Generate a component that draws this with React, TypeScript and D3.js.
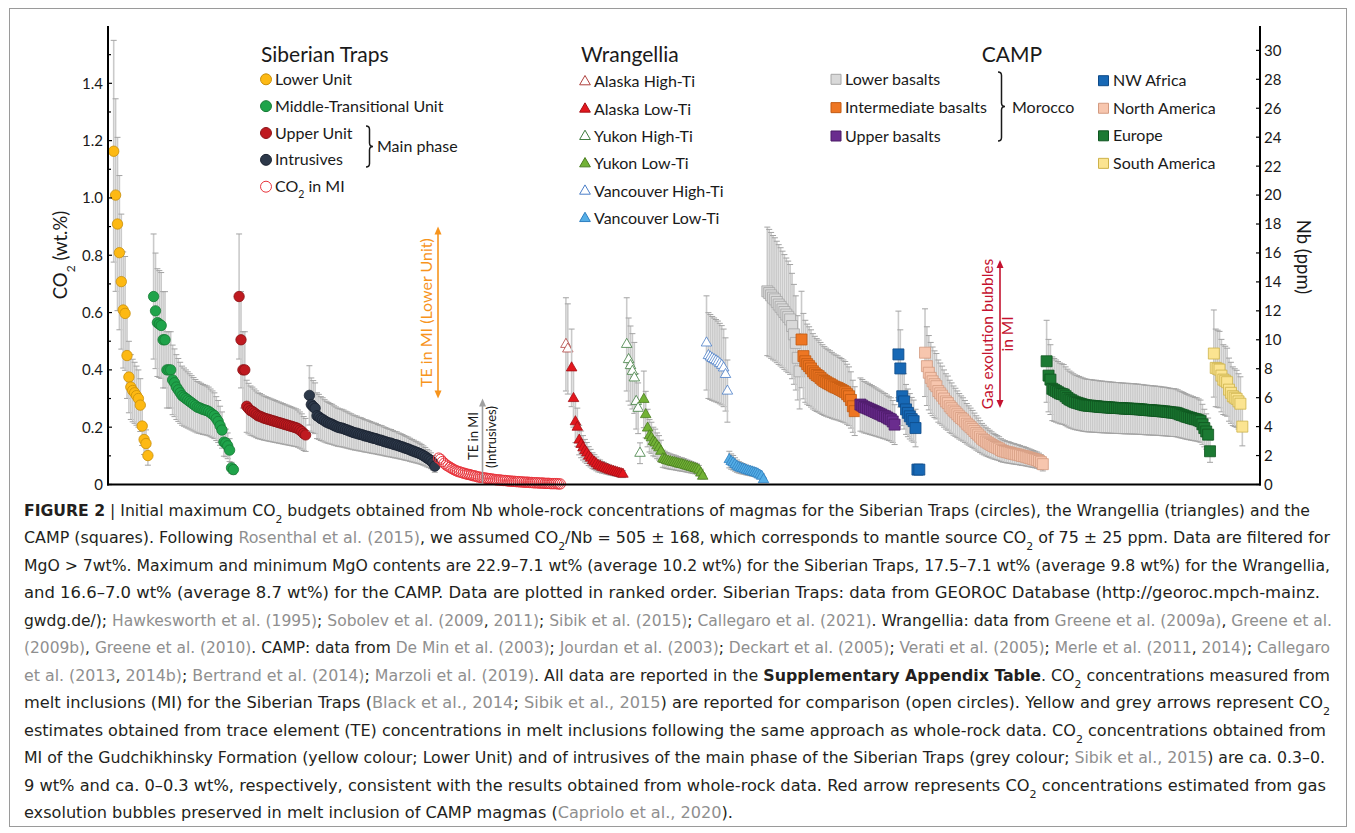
import React from "react";
import * as d3 from "d3";

// ---------------- data (CO2 wt.%, ranked) ----------------
const lowerUnit = [1.163, 1.01, 0.909, 0.809, 0.708, 0.609, 0.597, 0.45, 0.375, 0.34, 0.328, 0.32, 0.31, 0.3, 0.277, 0.204, 0.157, 0.143, 0.101];
const middleTransitional = [0.656, 0.606, 0.565, 0.56, 0.555, 0.505, 0.505, 0.4, 0.4, 0.4, 0.365, 0.355, 0.34, 0.33, 0.32, 0.31, 0.305, 0.3, 0.295, 0.29, 0.285, 0.28, 0.275, 0.27, 0.268, 0.265, 0.262, 0.26, 0.258, 0.255, 0.25, 0.245, 0.24, 0.23, 0.22, 0.205, 0.19, 0.148, 0.145, 0.135, 0.12, 0.058, 0.052];
const upperUnit = [0.656, 0.505, 0.4, 0.4, 0.273, 0.265, 0.258, 0.255, 0.25, 0.245, 0.24, 0.238, 0.235, 0.232, 0.23, 0.228, 0.226, 0.224, 0.222, 0.22, 0.218, 0.216, 0.214, 0.212, 0.21, 0.208, 0.206, 0.204, 0.202, 0.2, 0.198, 0.195, 0.19, 0.185, 0.178, 0.173];
const intrusives = [0.311, 0.279, 0.272, 0.266, 0.24, 0.236, 0.23, 0.227, 0.222, 0.218, 0.215, 0.212, 0.21, 0.206, 0.203, 0.2, 0.198, 0.197, 0.195, 0.192, 0.19, 0.187, 0.185, 0.182, 0.18, 0.179, 0.176, 0.175, 0.173, 0.17, 0.169, 0.167, 0.165, 0.163, 0.161, 0.16, 0.157, 0.155, 0.154, 0.151, 0.149, 0.147, 0.145, 0.144, 0.141, 0.139, 0.138, 0.135, 0.133, 0.131, 0.128, 0.126, 0.124, 0.121, 0.118, 0.116, 0.113, 0.111, 0.108, 0.105, 0.101, 0.097, 0.092, 0.088, 0.083, 0.076, 0.064];
const co2InMI = [0.092, 0.088, 0.08, 0.074, 0.068, 0.064, 0.06, 0.056, 0.052, 0.049, 0.046, 0.044, 0.042, 0.04, 0.038, 0.036, 0.035, 0.033, 0.031, 0.03, 0.028, 0.026, 0.025, 0.024, 0.023, 0.022, 0.021, 0.02, 0.019, 0.018, 0.017, 0.016, 0.016, 0.015, 0.014, 0.014, 0.013, 0.012, 0.012, 0.011, 0.011, 0.01, 0.01, 0.009, 0.009, 0.008, 0.008, 0.008, 0.007, 0.007, 0.006, 0.006, 0.006, 0.005, 0.005, 0.005, 0.004, 0.004, 0.004, 0.003, 0.003, 0.003, 0.003, 0.002, 0.002];
const alaskaHighTi = [0.489, 0.473];
const alaskaLowTi = [0.407, 0.3, 0.219, 0.2, 0.155, 0.14, 0.128, 0.118, 0.11, 0.099, 0.092, 0.083, 0.078, 0.072, 0.066, 0.064, 0.06, 0.058, 0.055, 0.053, 0.05, 0.048, 0.046, 0.044, 0.042, 0.04, 0.038, 0.036];
const yukonHighTi = [0.489, 0.436, 0.415, 0.395, 0.372, 0.29, 0.266, 0.109];
const yukonLowTi = [0.297, 0.244, 0.197, 0.17, 0.163, 0.15, 0.145, 0.135, 0.128, 0.116, 0.09, 0.087, 0.084, 0.082, 0.08, 0.078, 0.077, 0.075, 0.073, 0.071, 0.07, 0.068, 0.066, 0.064, 0.062, 0.06, 0.058, 0.056, 0.054, 0.05, 0.04, 0.029];
const vancouverHighTi = [0.494, 0.45, 0.445, 0.44, 0.436, 0.432, 0.428, 0.422, 0.416, 0.407, 0.384, 0.326];
const vancouverLowTi = [0.087, 0.08, 0.076, 0.07, 0.064, 0.06, 0.057, 0.055, 0.053, 0.05, 0.048, 0.046, 0.044, 0.042, 0.04, 0.037, 0.033, 0.029, 0.017];
const lowerBasalts = [0.674, 0.668, 0.66, 0.652, 0.646, 0.637, 0.628, 0.62, 0.611, 0.602, 0.593, 0.585, 0.576, 0.553, 0.524, 0.494, 0.442, 0.395];
const intermediateBasalts = [0.506, 0.448, 0.43, 0.42, 0.413, 0.405, 0.395, 0.388, 0.382, 0.378, 0.372, 0.366, 0.361, 0.357, 0.353, 0.35, 0.346, 0.342, 0.339, 0.337, 0.333, 0.33, 0.326, 0.322, 0.315, 0.308, 0.295, 0.273, 0.256];
const upperBasalts = [0.279, 0.275, 0.27, 0.268, 0.265, 0.262, 0.259, 0.256, 0.253, 0.25, 0.247, 0.244, 0.24, 0.238, 0.234, 0.23, 0.227, 0.22, 0.209];
const nwAfrica = [0.454, 0.405, 0.308, 0.29, 0.262, 0.25, 0.238, 0.228, 0.221, 0.197, 0.052, 0.052];
const northAmerica = [0.46, 0.413, 0.39, 0.372, 0.36, 0.35, 0.343, 0.326, 0.318, 0.31, 0.3, 0.29, 0.284, 0.273, 0.266, 0.258, 0.252, 0.245, 0.238, 0.232, 0.227, 0.22, 0.212, 0.206, 0.2, 0.194, 0.187, 0.18, 0.174, 0.167, 0.16, 0.155, 0.15, 0.146, 0.142, 0.138, 0.134, 0.131, 0.128, 0.125, 0.12, 0.117, 0.115, 0.113, 0.112, 0.11, 0.108, 0.107, 0.105, 0.104, 0.102, 0.1, 0.099, 0.097, 0.095, 0.093, 0.091, 0.089, 0.087, 0.085, 0.082, 0.078, 0.071];
const europe = [0.43, 0.38, 0.366, 0.334, 0.33, 0.326, 0.322, 0.318, 0.316, 0.314, 0.308, 0.302, 0.297, 0.294, 0.29, 0.287, 0.285, 0.283, 0.281, 0.279, 0.277, 0.276, 0.275, 0.275, 0.274, 0.273, 0.273, 0.272, 0.271, 0.271, 0.27, 0.27, 0.269, 0.269, 0.268, 0.268, 0.267, 0.267, 0.267, 0.266, 0.266, 0.265, 0.265, 0.265, 0.264, 0.264, 0.264, 0.263, 0.263, 0.262, 0.262, 0.261, 0.26, 0.26, 0.259, 0.259, 0.258, 0.258, 0.257, 0.257, 0.256, 0.255, 0.255, 0.254, 0.253, 0.252, 0.251, 0.251, 0.25, 0.248, 0.245, 0.243, 0.241, 0.238, 0.236, 0.234, 0.232, 0.23, 0.228, 0.227, 0.224, 0.221, 0.21, 0.197, 0.185, 0.174, 0.116];
const southAmerica = [0.457, 0.407, 0.404, 0.401, 0.38, 0.366, 0.362, 0.357, 0.331, 0.32, 0.308, 0.303, 0.299, 0.29, 0.282, 0.202];

const CO2_NB_RATIO = 505;
const CO2_NB_ERR = 168;

const leftTicks = [0, 0.2, 0.4, 0.6, 0.8, 1.0, 1.2, 1.4];
const leftTickLabels = ["0", "0.2", "0.4", "0.6", "0.8", "1.0", "1.2", "1.4"];
const leftMinorTicks = [0.1, 0.3, 0.5, 0.7, 0.9, 1.1, 1.3, 1.5];
const nbTicks = [0, 2, 4, 6, 8, 10, 12, 14, 16, 18, 20, 22, 24, 26, 28, 30];

type Shape = "circle" | "triangle" | "square";
interface Series { key: string; start: number; values: number[]; shape: Shape; fill: string; stroke: string; err: boolean; }

const series: Series[] = [
  { key: "Lower Unit", start: 3, values: lowerUnit, shape: "circle", fill: "#FDB913", stroke: "#C98F0A", err: true },
  { key: "Middle-Transitional Unit", start: 24, values: middleTransitional, shape: "circle", fill: "#1FA34A", stroke: "#157A33", err: true },
  { key: "Upper Unit", start: 69, values: upperUnit, shape: "circle", fill: "#BF1A20", stroke: "#8A1014", err: true },
  { key: "Intrusives", start: 106, values: intrusives, shape: "circle", fill: "#2D394A", stroke: "#1A2230", err: true },
  { key: "CO2 in MI", start: 174, values: co2InMI, shape: "circle", fill: "none", stroke: "#E8343C", err: false },
  { key: "Alaska High-Ti", start: 241, values: alaskaHighTi, shape: "triangle", fill: "#ffffff", stroke: "#B0413E", err: true },
  { key: "Alaska Low-Ti", start: 244, values: alaskaLowTi, shape: "triangle", fill: "#E3171E", stroke: "#A50F15", err: true },
  { key: "Yukon High-Ti", start: 273, values: yukonHighTi, shape: "triangle", fill: "#ffffff", stroke: "#3E7D3E", err: true },
  { key: "Yukon Low-Ti", start: 282, values: yukonLowTi, shape: "triangle", fill: "#72B236", stroke: "#4A7D20", err: true },
  { key: "Vancouver High-Ti", start: 315, values: vancouverHighTi, shape: "triangle", fill: "#ffffff", stroke: "#4A7EC8", err: true },
  { key: "Vancouver Low-Ti", start: 327, values: vancouverLowTi, shape: "triangle", fill: "#55AEE6", stroke: "#2F7FC0", err: true },
  { key: "Lower basalts", start: 347, values: lowerBasalts, shape: "square", fill: "#D9D9D9", stroke: "#A6A6A6", err: true },
  { key: "Intermediate basalts", start: 365, values: intermediateBasalts, shape: "square", fill: "#EE7623", stroke: "#C25A12", err: true },
  { key: "Upper basalts", start: 396, values: upperBasalts, shape: "square", fill: "#6A2C8E", stroke: "#4A1A66", err: true },
  { key: "NW Africa", start: 416, values: nwAfrica, shape: "square", fill: "#1768B5", stroke: "#0E4A88", err: true },
  { key: "North America", start: 430, values: northAmerica, shape: "square", fill: "#F7C6AE", stroke: "#D39A80", err: true },
  { key: "Europe", start: 494, values: europe, shape: "square", fill: "#1C7A33", stroke: "#0F5520", err: true },
  { key: "South America", start: 582, values: southAmerica, shape: "square", fill: "#FBE491", stroke: "#CDB24A", err: true },
];

const siberianLegend = ["Lower Unit", "Middle-Transitional Unit", "Upper Unit", "Intrusives", "CO2 in MI"];
const wrangelliaLegend = ["Alaska High-Ti", "Alaska Low-Ti", "Yukon High-Ti", "Yukon Low-Ti", "Vancouver High-Ti", "Vancouver Low-Ti"];
const campMoroccoLegend = ["Lower basalts", "Intermediate basalts", "Upper basalts"];
const campOtherLegend = ["NW Africa", "North America", "Europe", "South America"];

type Seg = [string, "n" | "g" | "b" | "s"];
const captionLines: Seg[][] = [
  [["FIGURE 2", "b"], [" | Initial maximum CO", "n"], ["2", "s"], [" budgets obtained from Nb whole-rock concentrations of magmas for the Siberian Traps (circles), the Wrangellia (triangles) and the", "n"]],
  [["CAMP (squares). Following ", "n"], ["Rosenthal et al. (2015)", "g"], [", we assumed CO", "n"], ["2", "s"], ["/Nb = 505 ± 168, which corresponds to mantle source CO", "n"], ["2", "s"], [" of 75 ± 25 ppm. Data are filtered for", "n"]],
  [["MgO > 7wt%. Maximum and minimum MgO contents are 22.9–7.1 wt% (average 10.2 wt%) for the Siberian Traps, 17.5–7.1 wt% (average 9.8 wt%) for the Wrangellia,", "n"]],
  [["and 16.6–7.0 wt% (average 8.7 wt%) for the CAMP. Data are plotted in ranked order. Siberian Traps: data from GEOROC Database (http://georoc.mpch-mainz.", "n"]],
  [["gwdg.de/); ", "n"], ["Hawkesworth et al. (1995)", "g"], ["; ", "n"], ["Sobolev et al. (2009", "g"], [", ", "n"], ["2011)", "g"], ["; ", "n"], ["Sibik et al. (2015)", "g"], ["; ", "n"], ["Callegaro et al. (2021)", "g"], [". Wrangellia: data from ", "n"], ["Greene et al. (2009a)", "g"], [", ", "n"], ["Greene et al.", "g"]],
  [["(2009b)", "g"], [", ", "n"], ["Greene et al. (2010)", "g"], [". CAMP: data from ", "n"], ["De Min et al. (2003)", "g"], ["; ", "n"], ["Jourdan et al. (2003)", "g"], ["; ", "n"], ["Deckart et al. (2005)", "g"], ["; ", "n"], ["Verati et al. (2005)", "g"], ["; ", "n"], ["Merle et al. (2011", "g"], [", ", "n"], ["2014)", "g"], ["; ", "n"], ["Callegaro", "g"]],
  [["et al. (2013", "g"], [", ", "n"], ["2014b)", "g"], ["; ", "n"], ["Bertrand et al. (2014)", "g"], ["; ", "n"], ["Marzoli et al. (2019)", "g"], [". All data are reported in the ", "n"], ["Supplementary Appendix Table", "b"], [". CO", "n"], ["2", "s"], [" concentrations measured from", "n"]],
  [["melt inclusions (MI) for the Siberian Traps (", "n"], ["Black et al., 2014", "g"], ["; ", "n"], ["Sibik et al., 2015", "g"], [") are reported for comparison (open circles). Yellow and grey arrows represent CO", "n"], ["2", "s"]],
  [["estimates obtained from trace element (TE) concentrations in melt inclusions following the same approach as whole-rock data. CO", "n"], ["2", "s"], [" concentrations obtained from", "n"]],
  [["MI of the Gudchikhinsky Formation (yellow colour; Lower Unit) and of intrusives of the main phase of the Siberian Traps (grey colour; ", "n"], ["Sibik et al., 2015", "g"], [") are ca. 0.3–0.", "n"]],
  [["9 wt% and ca. 0–0.3 wt%, respectively, consistent with the results obtained from whole-rock data. Red arrow represents CO", "n"], ["2", "s"], [" concentrations estimated from gas", "n"]],
  [["exsolution bubbles preserved in melt inclusion of CAMP magmas (", "n"], ["Capriolo et al., 2020", "g"], [").", "n"]],
];
const captionLineWidths = [1286, 1306, 1306, 1296, 1308, 1306, 1306, 1306, 1302, 1301, 1302, 709];

// ---------------- layout ----------------
const W = 1355, H = 833;
const PL = 108, PR = 1260, PB = 484.5, PT = 26;
const Y_MAX = 1.6;

const x = d3.scaleLinear().domain([0, 606.3]).range([PL, PR]);
const y = d3.scaleLinear().domain([0, Y_MAX]).range([PB, PT]);
const yNb = d3.scaleLinear().domain([0, (Y_MAX * 10000) / CO2_NB_RATIO]).range([PB, PT]);

const symPath: Record<Shape, string> = {
  circle: d3.symbol().type(d3.symbolCircle).size(Math.PI * 27)() as string,
  triangle: d3.symbol().type(d3.symbolTriangle).size(48)() as string,
  square: d3.symbol().type(d3.symbolSquare).size(121)() as string,
};
const legendPath: Record<Shape, string> = {
  circle: d3.symbol().type(d3.symbolCircle).size(Math.PI * 30)() as string,
  triangle: d3.symbol().type(d3.symbolTriangle).size(50)() as string,
  square: d3.symbol().type(d3.symbolSquare).size(100)() as string,
};

const CHART_FONT = "Lato, 'Open Sans', sans-serif";
const CAP_FONT = "'Liberation Sans Narrow', 'DejaVu Sans Condensed', 'Liberation Sans', sans-serif";
const seriesByKey: Record<string, Series> = Object.fromEntries(series.map((s) => [s.key, s]));

function brace(x0: number, y1: number, y2: number, w: number) {
  const m = (y1 + y2) / 2;
  const h = w / 2;
  return `M${x0},${y1} Q${x0 + h},${y1} ${x0 + h},${y1 + h} L${x0 + h},${m - h} Q${x0 + h},${m} ${x0 + w},${m} Q${x0 + h},${m} ${x0 + h},${m + h} L${x0 + h},${y2 - h} Q${x0 + h},${y2} ${x0},${y2}`;
}

function LegendLabel({ text, x0, y0 }: { text: string; x0: number; y0: number }) {
  if (text === "CO2 in MI") {
    return (
      <text x={x0} y={y0} fontSize={16} fill="#1a1a1a">
        CO<tspan baselineShift="sub" fontSize={10.5}>2</tspan> in MI
      </text>
    );
  }
  return (
    <text x={x0} y={y0} fontSize={16} fill="#1a1a1a">
      {text}
    </text>
  );
}

function LegendItem({ k, cx, cy, tx }: { k: string; cx: number; cy: number; tx: number }) {
  const s = seriesByKey[k];
  return (
    <g>
      <path d={legendPath[s.shape]} transform={`translate(${cx},${cy})`} fill={s.fill === "none" ? "#fff" : s.fill} stroke={s.stroke} strokeWidth={1} />
      <LegendLabel text={k} x0={tx} y0={cy + 5.6} />
    </g>
  );
}

function Arrow({ xa, ya, yb, color, heads }: { xa: number; ya: number; yb: number; color: string; heads: "both" | "top" }) {
  const hw = 3.5, hl = 8;
  return (
    <g>
      <line x1={xa} x2={xa} y1={ya + hl - 1} y2={heads === "both" ? yb - hl + 1 : yb} stroke={color} strokeWidth={1.6} />
      <path d={`M${xa},${ya} L${xa - hw},${ya + hl} L${xa + hw},${ya + hl} Z`} fill={color} />
      {heads === "both" && <path d={`M${xa},${yb} L${xa - hw},${yb - hl} L${xa + hw},${yb - hl} Z`} fill={color} />}
    </g>
  );
}

export default function App() {
  const ERR = CO2_NB_ERR / CO2_NB_RATIO;
  return (
    <div style={{ position: "absolute", left: 0, top: 0 }}>
      <svg width={W} height={H} style={{ display: "block", fontFamily: CHART_FONT }}>
        <rect x={0} y={0} width={W} height={H} fill="#fff" />
        <rect x={9.5} y={8.5} width={1337} height={818} fill="none" stroke="#9a9a9a" strokeWidth={1} />

        {series.map((s) => (
          <g key={s.key}>
            {s.err &&
              s.values.map((v, i) => {
                const cx = x(s.start + i);
                const y1 = y(v * (1 + ERR));
                const y2 = y(v * (1 - ERR));
                return (
                  <g key={"e" + i}>
                    <line x1={cx} x2={cx} y1={y1} y2={y2} stroke="#CACACA" strokeWidth={1.6} />
                    <line x1={cx - 3} x2={cx + 3} y1={y1} y2={y1} stroke="#A3A3A3" strokeWidth={1} />
                    <line x1={cx - 3} x2={cx + 3} y1={y2} y2={y2} stroke="#A3A3A3" strokeWidth={1} />
                  </g>
                );
              })}
            {s.values.map((v, i) => (
              <path
                key={"m" + i}
                d={symPath[s.shape]}
                transform={`translate(${x(s.start + i)},${y(v)})`}
                fill={s.fill}
                stroke={s.stroke}
                strokeWidth={s.fill === "none" ? 1 : 0.8}
              />
            ))}
          </g>
        ))}

        <line x1={PL} x2={PL} y1={PT} y2={PB + 1} stroke="#000" strokeWidth={2} />
        <line x1={PR} x2={PR} y1={PT} y2={PB + 1} stroke="#000" strokeWidth={2} />
        <line x1={PL - 1} x2={PR + 1} y1={PB} y2={PB} stroke="#000" strokeWidth={2.2} />
        {leftTicks.map((t, i) => (
          <g key={"lt" + i}>
            <line x1={PL} x2={PL + 4} y1={y(t)} y2={y(t)} stroke="#000" strokeWidth={1.2} />
            <text x={PL - 5} y={y(t)} dy="0.36em" textAnchor="end" fontSize={15} fill="#1a1a1a">
              {leftTickLabels[i]}
            </text>
          </g>
        ))}
        {leftMinorTicks.map((t, i) => (
          <line key={"lm" + i} x1={PL} x2={PL + 3} y1={y(t)} y2={y(t)} stroke="#000" strokeWidth={1.2} />
        ))}
        {nbTicks.map((t) => (
          <g key={"nb" + t}>
            <line x1={PR - 4} x2={PR} y1={yNb(t)} y2={yNb(t)} stroke="#000" strokeWidth={1.2} />
            <text x={PR + 4} y={yNb(t)} dy="0.36em" textAnchor="start" fontSize={15} fill="#1a1a1a">
              {t}
            </text>
          </g>
        ))}
        <text transform={`translate(67,255) rotate(-90)`} textAnchor="middle" fontSize={18.5} fill="#1a1a1a">
          CO<tspan baselineShift="sub" fontSize={12}>2</tspan> (wt.%)
        </text>
        <text transform={`translate(1297,257) rotate(90)`} textAnchor="middle" fontSize={18.5} fill="#1a1a1a">
          Nb (ppm)
        </text>

        <Arrow xa={438} ya={y(0.9)} yb={y(0.3)} color="#F7941D" heads="both" />
        <text transform={`translate(432,${y(0.6)}) rotate(-90)`} textAnchor="middle" fontSize={16} fill="#F7941D">
          TE in MI (Lower Unit)
        </text>
        <Arrow xa={482.5} ya={y(0.3)} yb={PB - 1} color="#A0A0A0" heads="top" />
        <text transform={`translate(478,436) rotate(-90)`} textAnchor="middle" fontSize={13} fill="#1a1a1a">
          TE in MI
        </text>
        <text transform={`translate(495.5,437) rotate(-90)`} textAnchor="middle" fontSize={13} fill="#1a1a1a">
          (Intrusives)
        </text>
        <Arrow xa={1000} ya={260} yb={408} color="#C4122F" heads="both" />
        <text transform={`translate(993,334) rotate(-90)`} textAnchor="middle" fontSize={15.5} fill="#C4122F">
          Gas exolution bubbles
        </text>
        <text transform={`translate(1013,334) rotate(-90)`} textAnchor="middle" fontSize={15.5} fill="#C4122F">
          in MI
        </text>

        <text x={261} y={61.5} fontSize={21} fill="#1a1a1a">Siberian Traps</text>
        {siberianLegend.map((k, i) => (
          <LegendItem key={k} k={k} cx={266} cy={79.3 + i * 26.85} tx={275} />
        ))}
        <path d={brace(366, 126, 167, 7)} fill="none" stroke="#1a1a1a" strokeWidth={1.5} />
        <text x={377} y={152} fontSize={16} fill="#1a1a1a">Main phase</text>

        <text x={581} y={61.5} fontSize={21} fill="#1a1a1a">Wrangellia</text>
        {wrangelliaLegend.map((k, i) => (
          <LegendItem key={k} k={k} cx={585} cy={81.7 + i * 27.35} tx={594} />
        ))}

        <text x={1012} y={61.5} fontSize={21} textAnchor="middle" fill="#1a1a1a">CAMP</text>
        {campMoroccoLegend.map((k, i) => (
          <LegendItem key={k} k={k} cx={836} cy={79.3 + i * 28.35} tx={845} />
        ))}
        <path d={brace(998, 72, 141, 7)} fill="none" stroke="#1a1a1a" strokeWidth={1.5} />
        <text x={1012} y={113} fontSize={16} fill="#1a1a1a">Morocco</text>
        {campOtherLegend.map((k, i) => (
          <LegendItem key={k} k={k} cx={1103.5} cy={80.7 + i * 27.55} tx={1113} />
        ))}

        <g fontFamily={CAP_FONT} fontSize={16} fill="#231F20">
          {captionLines.map((segs, li) => (
            <text key={li} x={24} y={516 + li * 27.45} textLength={captionLineWidths[li]} lengthAdjust="spacingAndGlyphs">
              {segs.map(([t, st], si) =>
                st === "s" ? (
                  <tspan key={si} baselineShift="sub" fontSize={11}>{t}</tspan>
                ) : st === "g" ? (
                  <tspan key={si} fill="#8F8F8F">{t}</tspan>
                ) : st === "b" ? (
                  <tspan key={si} fontWeight="bold">{t}</tspan>
                ) : (
                  <tspan key={si}>{t}</tspan>
                )
              )}
            </text>
          ))}
        </g>
      </svg>
    </div>
  );
}
